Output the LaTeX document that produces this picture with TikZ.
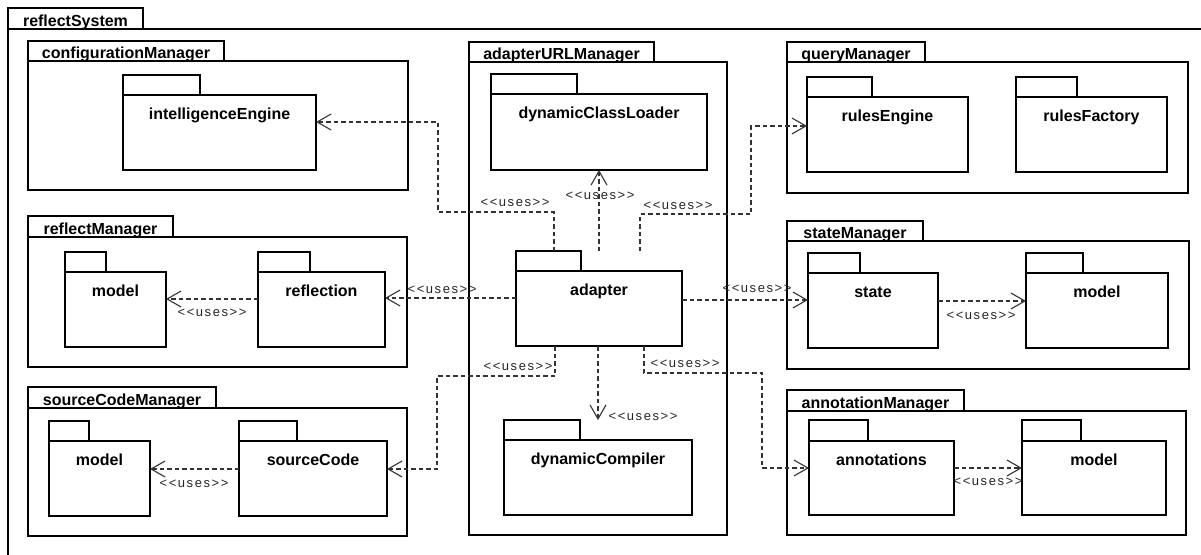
\documentclass[tikz,border=0pt]{standalone}
\usepackage{fontspec}
\setmainfont{Liberation Sans}
\newfontfamily\usesfont{Liberation Sans}[LetterSpace=12]
\usetikzlibrary{arrows.meta,calc}

\tikzset{
  frame/.style={draw, line width=2.2pt, inner sep=0pt, outer sep=0pt},
  pkgname/.style={font=\fontsize{16}{16}\selectfont\bfseries, inner sep=0pt},
  uses/.style={draw=black!80, line width=1.1pt, dash pattern=on 4.5pt off 3pt,
    -{Straight Barb[length=14pt,width=16pt]}},
  usestext/.style={font=\usesfont\fontsize{13}{13}\selectfont, text=black!85, inner sep=0pt},
}

% package with its name inside the body: name, left, tab top, tab right, body top, body right, body bottom, text
\newcommand\pkgbox[8]{%
  \node[frame, anchor=north west, minimum width=#4-#2, minimum height=#5-#3] (#1tab) at (#2,#3) {};
  \node[frame, anchor=north west, minimum width=#6-#2, minimum height=#7-#5] (#1) at (#2,#5) {};
  \node[pkgname, anchor=base] (#1name) at ($(#1.north)+(0,24.5)$) {#8};
}
% containing package with its name in the tab
\newcommand\pkgframe[8]{%
  \node[frame, anchor=north west, minimum width=#4-#2, minimum height=#5-#3] (#1tab) at (#2,#3) {};
  \node[frame, anchor=north west, minimum width=#6-#2, minimum height=#7-#5] (#1) at (#2,#5) {};
  \node[pkgname, anchor=base] (#1name) at ($(#1tab.south)+(0,-3)$) {#8};
}
\newcommand\useslabel[2]{\node[usestext] (#1) at (#2) {\textless\textless uses\textgreater\textgreater};}

\begin{document}
\begin{tikzpicture}[x=1pt,y=-1pt]
\fill[white] (0,0) rectangle (1201,554);
\useasboundingbox (0,0) rectangle (1201,554);

% outer system package
\pkgframe{sys}{8}{8}{143}{29}{1215}{570}{reflectSystem}

% managers
\pkgframe{conf}{28}{41}{224}{61}{408}{190}{configurationManager}
\pkgframe{aum}{469}{42}{654}{62}{727}{535}{adapterURLManager}
\pkgframe{qm}{787}{42}{925}{62}{1188}{193}{queryManager}
\pkgframe{rm}{28}{216}{173}{237}{407}{367}{reflectManager}
\pkgframe{scm}{28}{387}{216}{408}{407}{536}{sourceCodeManager}
\pkgframe{sm}{787}{221}{923}{241}{1189}{369}{stateManager}
\pkgframe{am}{787}{390}{964}{411}{1186}{535}{annotationManager}

% contained packages
\pkgbox{ie}{123}{75}{200}{95}{316}{170}{intelligenceEngine}
\pkgbox{dcl}{491}{74}{577}{94}{707}{170}{dynamicClassLoader}
\pkgbox{re}{807}{77}{872}{97}{968}{172}{rulesEngine}
\pkgbox{rf}{1016}{77}{1077}{97}{1167}{172}{rulesFactory}
\pkgbox{rmModel}{65}{252}{106}{272}{166}{347}{model}
\pkgbox{refl}{258}{252}{310}{272}{385}{347}{reflection}
\pkgbox{scModel}{49}{421}{89}{441}{150}{516}{model}
\pkgbox{sc}{239}{421}{297}{441}{387}{516}{sourceCode}
\pkgbox{st}{808}{253}{860}{273}{938}{348}{state}
\pkgbox{smModel}{1026}{253}{1083}{273}{1168}{348}{model}
\pkgbox{ann}{809}{420}{868}{441}{954}{515}{annotations}
\pkgbox{amModel}{1022}{420}{1081}{441}{1166}{515}{model}
\pkgbox{ad}{516}{251}{581}{271}{682}{346}{adapter}
\pkgbox{dc}{504}{420}{580}{440}{692}{515}{dynamicCompiler}

% dependencies of the adapter
\draw[uses] (554,0 |- adtab.north) |- (438,212) |- (ie.east |- 0,122);
\draw[uses] (599,0 |- adtab.north) -- (599,0 |- dcl.south);
\draw[uses] (640,0 |- adtab.north) |- (751,214) |- (re.west |- 0,126);
\draw[uses] (ad.west |- 0,298) -- (refl.east |- 0,298);
\draw[uses] (ad.east |- 0,300) -- (st.west |- 0,300);
\draw[uses] (555,0 |- ad.south) |- (437,376) |- (sc.east |- 0,469);
\draw[uses] (598,0 |- ad.south) -- (598,0 |- dctab.north);
\draw[uses] (644,0 |- ad.south) |- (762,373) |- (ann.west |- 0,468);

% dependencies inside the managers
\draw[uses] (refl.west |- 0,299) -- (rmModel.east |- 0,299);
\draw[uses] (sc.west |- 0,469) -- (scModel.east |- 0,469);
\draw[uses] (st.east |- 0,301) -- (smModel.west |- 0,301);
\draw[uses] (ann.east |- 0,468) -- (amModel.west |- 0,468);

% stereotype labels
\useslabel{u1}{515,203}
\useslabel{u2}{600,196}
\useslabel{u3}{678,206}
\useslabel{u4}{442,290}
\useslabel{u5}{757,289}
\useslabel{u6}{518,367}
\useslabel{u7}{643,417}
\useslabel{u8}{685,364}
\useslabel{u9}{212,313}
\useslabel{u10}{194,484}
\useslabel{u11}{981,316}
\useslabel{u12}{988,482}
\end{tikzpicture}
\end{document}
